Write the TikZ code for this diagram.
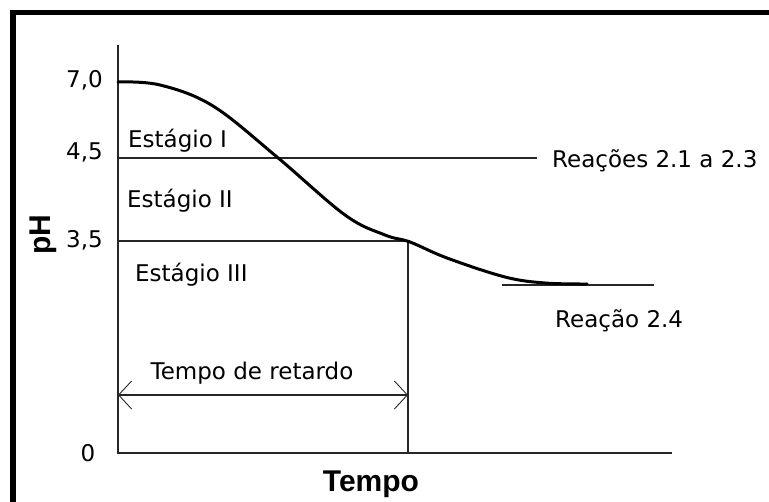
\documentclass[tikz,border=0pt]{standalone}
\usepackage{fontspec}
\setmainfont{DejaVu Sans}
\newfontfamily\boldlab{Liberation Sans}[BoldFont={Liberation Sans Bold}]
\usetikzlibrary{arrows.meta}
\begin{document}
\begin{tikzpicture}[x=1pt,y=-1pt,
  lab/.style={inner sep=0pt,font=\fontsize{23}{26}\selectfont},
  big/.style={inner sep=0pt,font=\boldlab\bfseries\fontsize{30}{34}\selectfont},
  thinline/.style={line width=1.3pt,draw=black!85},
  curveline/.style={line width=3pt,line cap=round,line join=round},
  dim/.style={line width=1.1pt,draw=black!85,{Straight Barb[length=13pt,width=28pt,line width=0.9pt]}-{Straight Barb[length=13pt,width=28pt,line width=0.9pt]}}]
\useasboundingbox (0,0) rectangle (769,502);
% frame
\fill (10,10) rectangle (769,15);
\fill (10,10) rectangle (16,502);
% coordinates
\coordinate (ytop) at (118,45);
\coordinate (O) at (118,453);
\coordinate (xend) at (672,453);
\coordinate (a45) at (118,158);
\coordinate (b45) at (537,158);
\coordinate (a35) at (118,241);
\coordinate (b35) at (408,241);
\coordinate (vb) at (408,453);
\coordinate (r1) at (502,285);
\coordinate (r2) at (654,285);
\coordinate (d1) at (118,395);
\coordinate (d2) at (408,395);
% axes and guide lines
\draw[thinline] (ytop) -- (O) -- (xend);
\draw[thinline] (a45) -- (b45);
\draw[thinline] (a35) -- (b35) -- (vb);
\draw[thinline] (r1) -- (r2);
\draw[dim] (d1) -- (d2);
% curve
\draw[curveline] plot[smooth,tension=0.6] coordinates {(118,82) (160,85) (213,106) (277,157) (345,215) (385,235) (410,242) (447,258) (505,277) (545,283) (587,284)};
% tick labels
\node[lab,anchor=base east] (t70) at (103,88) {7,0};
\node[lab,anchor=base east] (t45) at (103,160) {4,5};
\node[lab,anchor=base east] (t35) at (103,248) {3,5};
\node[lab,anchor=center] (t0) at (88,453) {0};
% stage labels
\node[lab,anchor=base west] (s1) at (128,148) {Estágio I};
\node[lab,anchor=base west] (s2) at (127,208) {Estágio II};
\node[lab,anchor=base west] (s3) at (135,282) {Estágio III};
\node[lab,anchor=base west] (r123) at (552,168) {Reações 2.1 a 2.3};
\node[lab,anchor=base west] (r24) at (555,328) {Reação 2.4};
\node[lab,anchor=base] (tr) at (252,380) {Tempo de retardo};
% axis titles
\node[big,anchor=base] (tempo) at (371,492) {Tempo};
\node[big,anchor=base,rotate=90] (ph) at (50,235) {pH};
\end{tikzpicture}
\end{document}
